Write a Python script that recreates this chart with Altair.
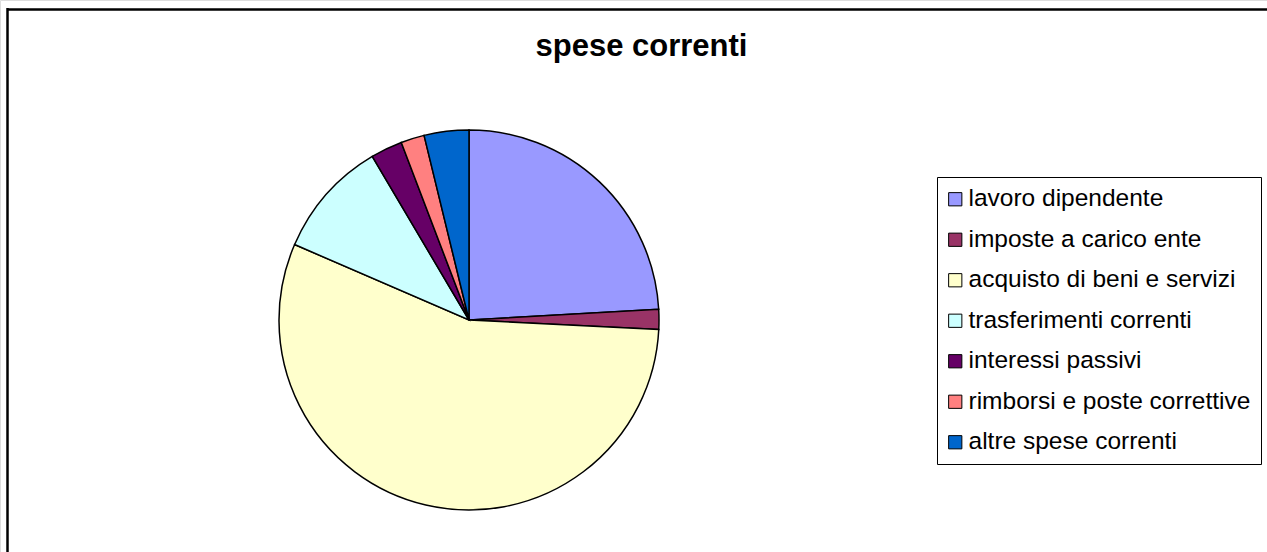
import altair as alt
import pandas as pd

# Current expenditure breakdown (percent of total)
categories = [
    "lavoro dipendente",
    "imposte a carico ente",
    "acquisto di beni e servizi",
    "trasferimenti correnti",
    "interessi passivi",
    "rimborsi e poste correttive",
    "altre spese correnti",
]
shares = [24.1, 1.7, 55.7, 10.0, 2.7, 2.0, 3.8]
colors = ["#9999FF", "#993366", "#FFFFCC", "#CCFFFF", "#660066", "#FF8080", "#0066CC"]

W, H = 1267, 552
FONT = "Liberation Sans"

df = pd.DataFrame({"voce": categories, "quota": shares, "ordine": list(range(len(categories)))})

pie = (
    alt.Chart(df)
    .mark_arc(radius=190, stroke="black", strokeWidth=1.5)
    .encode(
        theta=alt.Theta("quota:Q", stack=True),
        order=alt.Order("ordine:Q"),
        color=alt.Color(
            "voce:N",
            sort=categories,
            scale=alt.Scale(domain=categories, range=colors),
            legend=alt.Legend(
                title=None,
                orient="none",
                legendX=937,
                legendY=177,
                padding=10,
                fillColor="white",
                strokeColor="black",
                symbolType="square",
                symbolSize=175,
                symbolOffset=-4,
                symbolStrokeColor="black",
                symbolStrokeWidth=1,
                labelFont=FONT,
                labelFontSize=24.5,
                labelColor="black",
                labelOffset=1,
                rowPadding=15.5,
                labelLimit=400,
            ),
        ),
        x=alt.value(469),
        y=alt.value(320),
    )
)

# Outer frame edges (top and left)
frame_src = pd.DataFrame({"k": [0]})
top_edge = alt.Chart(frame_src).mark_rule(color="black", strokeWidth=2.5).encode(
    x=alt.value(7), x2=alt.value(W), y=alt.value(9.5)
)
left_edge = alt.Chart(frame_src).mark_rule(color="black", strokeWidth=2.5).encode(
    x=alt.value(7.5), y=alt.value(8), y2=alt.value(H)
)

chart = (
    alt.layer(pie, top_edge, left_edge)
    .properties(
        width=W,
        height=H,
        padding=0,
        autosize=alt.AutoSizeParams(type="none"),
        title=alt.TitleParams(
            "spese correnti",
            font=FONT,
            fontSize=31,
            fontWeight="bold",
            color="black",
            anchor="middle",
            baseline="alphabetic",
            offset=0,
            dx=8,
            dy=87,
        ),
    )
    .configure_view(stroke="transparent")
    .configure(background="white")
)

chart.save("out.html", embed_options={"renderer": "svg", "actions": False})
